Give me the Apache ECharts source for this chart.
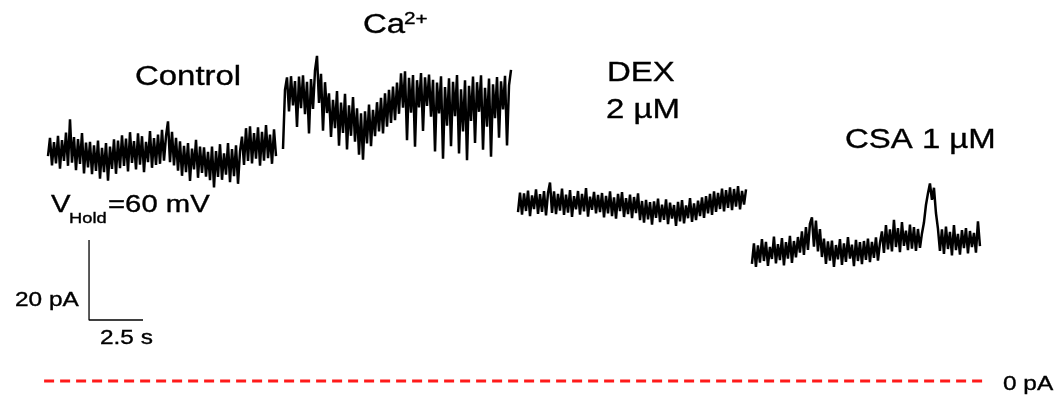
<!DOCTYPE html>
<html>
<head>
<meta charset="utf-8">
<script src="https://cdn.jsdelivr.net/npm/echarts@6/dist/echarts.min.js"></script>
<style>
html,body{margin:0;padding:0;background:#fff;}
#chart{width:1058px;height:397px;}
</style>
</head>
<body>
<div id="chart"></div>
<script>
// ---- data (current in pA, sampled every dt seconds) ----
const dt = 0.0926;
const traceNames = ['Control', 'Ca2+', 'DEX 2 µM', 'CSA 1 µM'];
const traceStarts = [0.37, 11.25, 22.13, 32.96]; // s

const controlTrace = [
  56.2, 60.8, 53.9, 59.7, 54.4, 61.3, 53.1, 60.2, 55.0, 62.1, 53.8, 65.4, 54.6, 61.0, 52.7, 60.5, 54.3, 62.0, 51.9, 59.6,
  53.4, 59.8, 51.7, 58.9, 52.5, 60.1, 50.6, 58.3, 52.2, 59.5, 50.1, 58.6, 53.0, 60.4, 51.8,
  60.1, 53.2, 61.4, 53.8, 60.6, 52.4, 62.2, 54.5, 60.0, 52.9, 61.9, 54.1, 61.2, 52.2, 59.8, 54.7, 62.5, 53.3, 60.7, 54.0,
  61.6, 54.3, 62.8, 55.1, 61.2, 64.9, 54.7, 62.3, 53.9, 60.8,
  52.6, 59.9, 51.3, 58.8, 52.2, 59.5, 50.0, 58.1, 52.9, 60.3, 50.8, 58.6, 52.0, 58.4, 51.1,
  57.3, 50.2, 58.6, 48.4, 57.5, 51.0, 59.2, 50.3, 56.9, 51.6, 59.5, 49.7, 58.0, 51.2, 58.9, 49.3, 57.4,
  61.1, 54.0, 63.2, 55.0, 63.7, 54.4, 62.0, 55.6, 63.4, 53.8, 62.3, 55.1, 64.0, 55.7, 61.6, 54.3, 62.9, 56.2
];
const caTrace = [
  58.0, 72.8, 75.9, 67.4, 76.2, 68.9, 75.0, 63.5, 76.1, 68.2, 76.4, 66.7, 74.8, 61.9, 75.5, 68.0, 77.6, 81.3, 69.5, 76.8, 62.6, 74.7, 67.0,
  71.9, 61.0, 70.3, 63.2, 72.5, 58.8, 69.6, 62.0, 71.8, 57.9, 68.9, 61.3, 71.0, 59.8, 68.2, 56.6, 66.9, 55.3, 67.4, 59.4, 69.1, 58.7, 67.8,
  61.2, 69.7, 62.4, 70.8, 61.9, 71.9, 63.6, 72.8, 64.5, 73.6, 65.2, 74.6, 66.8,
  76.9, 68.3, 77.4, 60.2, 75.8, 67.1, 76.5, 58.6, 75.2, 68.4, 77.0, 62.5, 75.9, 68.8, 76.6,
  66.1, 75.3, 57.4, 74.6, 66.9, 76.2, 55.6, 73.5, 63.8, 75.7, 58.7, 74.8, 66.2, 76.5, 56.9, 72.9, 62.4, 75.2, 55.2, 73.8,
  65.0, 76.1, 59.5, 74.7, 67.3, 76.4, 57.8, 73.3, 63.6, 75.6, 56.1, 74.2, 65.7, 76.0, 60.8, 74.9, 67.9, 76.3, 58.9, 73.9, 77.8
];
const dexTrace = [
  42.2, 47.1, 41.6, 46.9, 42.5, 47.6, 41.2, 46.4, 43.0, 47.9, 41.8, 46.7, 42.3, 47.5, 41.4, 47.0, 49.6, 42.0, 47.4, 41.7,
  46.8, 42.6, 48.1, 41.5, 46.6, 42.1, 47.7, 41.0, 46.2, 42.9, 47.5, 41.6, 46.8, 42.4, 48.2, 41.1, 46.1, 42.8, 47.3, 41.9, 46.5,
  42.2, 47.0, 40.9, 46.3, 41.9, 47.4, 41.2, 45.9, 40.6, 46.8, 42.5, 47.2, 41.0, 45.7, 41.7, 46.6, 40.7, 46.0, 42.0, 46.9,
  40.2, 45.0, 39.6, 45.3, 40.4, 44.7, 39.1, 44.9, 40.8, 45.6, 39.7, 44.1, 40.3, 45.4, 39.2, 44.6, 40.6, 44.0, 38.8, 44.8,
  39.9, 45.2, 39.4, 43.9, 40.7, 45.7, 39.8, 44.4, 40.2, 45.1,
  41.2, 45.9, 40.8, 46.2, 41.9, 46.8, 41.5, 47.4, 42.3, 47.0, 43.0, 48.1, 42.4, 47.7, 43.3, 48.4, 42.7, 48.0, 43.6, 48.7,
  42.9, 47.5, 44.1, 47.9
];
const csaTrace = [
  29.3, 34.4, 28.5, 33.9, 29.6, 35.5, 30.0, 34.8, 28.8, 33.5, 30.5, 36.1, 29.4, 34.2, 30.2, 35.7, 28.9, 34.7, 30.6, 36.3,
  29.5, 35.0, 30.9, 36.0,
  32.1, 37.4, 31.5, 38.5, 32.8, 39.3, 40.9, 33.6, 40.1, 32.4, 38.0, 31.0,
  35.6, 29.3, 34.9, 30.1, 35.1, 28.5, 34.0, 30.4, 35.5, 29.0, 34.4, 29.8, 36.0, 30.6, 34.1, 28.7, 35.3, 30.0, 34.7, 29.2,
  35.0, 30.3, 35.6, 29.7, 34.8, 30.8, 35.9, 30.1, 34.5,
  37.4, 32.0, 39.0, 32.9, 37.9, 32.4, 40.3, 33.5, 38.2, 32.2, 39.7, 33.8, 37.6, 32.7, 39.1, 33.1, 38.5, 32.5, 38.0, 33.3, 36.9,
  39.6, 44.0, 46.9, 49.4, 45.3, 48.3, 42.0, 38.1,
  32.5, 37.9, 31.8, 38.6, 33.0, 37.3, 31.4, 39.0, 32.7, 36.8, 31.6, 37.7, 33.2, 38.2, 31.9, 37.5, 33.5, 37.0, 32.1, 39.9, 33.7
];

// scale bars: 20 pA and 2.5 s, corner at (t, I)
const scaleBarCorner = [2.27, 15.25];
const scaleBarPA = 20;
const scaleBarS = 2.5;
// zero-current reference line extent (s)
const zeroLineRange = [0.19, 43.66];

const traces = [controlTrace, caTrace, dexTrace, csaTrace];

const chart = echarts.init(document.getElementById('chart'), null, {renderer: 'canvas'});
const FONT = '"Liberation Sans", Arial, sans-serif';
const SX = 1.22;

function txt(text, x, y, size, color) {
  return {
    type: 'text', x: x, y: y, scaleX: SX, scaleY: 1,
    style: {text: text, x: 0, y: 0, fill: color || '#000',
      stroke: color || '#000', lineWidth: 0.35,
      font: size + 'px ' + FONT, textAlign: 'left', verticalAlign: 'middle'}
  };
}

const series = traces.map((arr, k) => ({
  name: traceNames[k],
  type: 'line',
  data: arr.map((v, i) => [traceStarts[k] + i * dt, v]),
  showSymbol: false,
  symbol: 'none',
  lineStyle: {color: '#000', width: 2.5, join: 'miter', miterLimit: 3},
  silent: true
}));

series.push({
  type: 'line', symbol: 'none', silent: true,
  data: [
    [scaleBarCorner[0], scaleBarCorner[1] + scaleBarPA],
    [scaleBarCorner[0], scaleBarCorner[1]],
    [scaleBarCorner[0] + scaleBarS, scaleBarCorner[1]]
  ],
  lineStyle: {color: '#000', width: 1.3}
});

series.push({
  type: 'line', symbol: 'none', silent: true,
  data: [[zeroLineRange[0], 0], [zeroLineRange[1], 0]],
  lineStyle: {color: '#ff1a1a', width: 3, type: [10, 6]}
});

chart.setOption({
  animation: false,
  backgroundColor: '#fff',
  grid: {left: 40, top: 1, width: 960, height: 396},
  xAxis: {type: 'value', min: 0, max: 44.4444, show: false},
  yAxis: {type: 'value', min: -4, max: 95, show: false},
  series: series,
  graphic: [
    txt('Control', 135, 77.5, 27),
    txt('Ca', 363, 25.5, 27),
    txt('2+', 404, 19.5, 17),
    txt('DEX', 607, 73.5, 27),
    txt('2 µM', 606, 110.5, 27),
    txt('CSA 1 µM', 845, 140.5, 27),
    txt('V', 51, 205, 24),
    txt('Hold', 69, 219, 15),
    txt('=60 mV', 108, 205, 24),
    txt('20 pA', 15, 300.8, 20),
    txt('2.5 s', 100, 338.8, 20),
    txt('0 pA', 1003, 384.5, 20)
  ]
});
</script>
</body>
</html>
